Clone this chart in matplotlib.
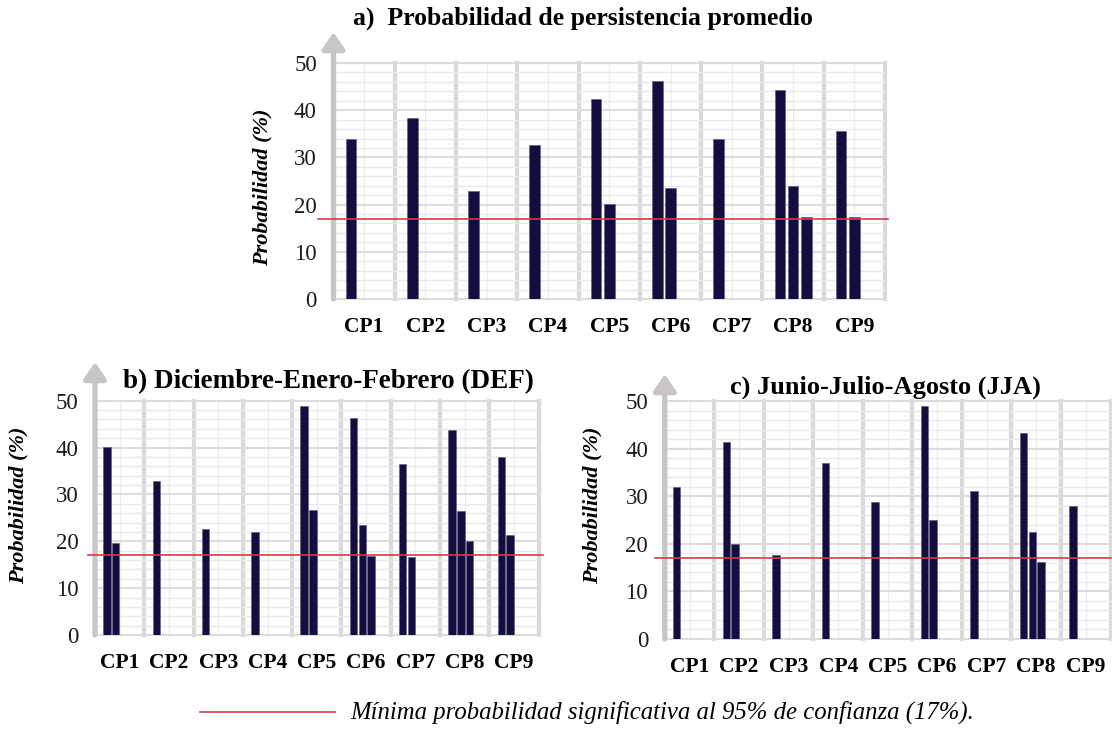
import numpy as np
import matplotlib.pyplot as plt
from matplotlib.lines import Line2D

plt.rcParams['font.family'] = ['Liberation Serif', 'DejaVu Serif']

categories = ['CP1', 'CP2', 'CP3', 'CP4', 'CP5', 'CP6', 'CP7', 'CP8', 'CP9']

# a) promedio
prom_1 = [34.0, 38.4, 22.8, 32.6, 42.4, 46.1, 33.9, 44.3, 35.6]
prom_2 = [None, None, None, None, 20.1, 23.6, None, 24.0, 17.4]
prom_3 = [None, None, None, None, None, None, None, 17.3, None]

# b) DEF
def_1 = [40.1, 32.9, 22.7, 21.9, 48.9, 46.4, 36.4, 43.7, 37.9]
def_2 = [19.7, None, None, None, 26.6, 23.4, 16.6, 26.4, 21.4]
def_3 = [None, None, None, None, None, 16.9, None, 20.1, None]

# c) JJA
jja_1 = [31.9, 41.4, 17.7, 36.9, 28.7, 48.9, 31.1, 43.2, 27.9]
jja_2 = [None, 20.0, None, None, None, 24.9, None, 22.5, None]
jja_3 = [None, None, None, None, None, None, None, 16.2, None]

umbral = 17

W, H = 1112, 730
fig = plt.figure(figsize=(W / 100, H / 100), dpi=100)

bar_color = '#120e40'
red = '#d63a48'
arrow_gray = '#c9c5c5'


def panel(rect, series, width, pitch, shift, tip, red_span, ylab_xy):
    ax = fig.add_axes(rect)
    x = np.arange(len(categories)) + 0.5
    for k, s in enumerate(series):
        vals = np.array(s, dtype=float)
        ax.bar(x + shift + (k - 1) * pitch, vals, width=width, color=bar_color,
               edgecolor='#5b587e', linewidth=0.4, zorder=3)
    ax.set_xlim(0, 9)
    ax.set_ylim(0, 50)
    ax.set_xticks(np.arange(0, 10))
    ax.set_xticklabels([])
    ax.set_xticks(x, labels=categories, minor=True)
    ax.set_yticks(np.arange(0, 51, 10))
    ax.set_yticks(np.arange(0, 51, 2), minor=True)
    ax.tick_params(which='both', length=0)
    ax.tick_params(axis='y', labelsize=16.5, pad=12, labelcolor='#1a1a1a')
    ax.tick_params(axis='x', which='minor', labelsize=15.5, pad=13)
    for lab in ax.get_xticklabels(minor=True):
        lab.set_fontweight('bold')
    ax.grid(which='major', axis='x', color='#dadada', lw=3)
    ax.grid(which='minor', axis='x', color='#ebebeb', lw=1)
    ax.grid(which='major', axis='y', color='#dcdcdc', lw=1.5)
    ax.grid(which='minor', axis='y', color='#e9e9e9', lw=1)
    for gl in ax.get_xgridlines() + ax.get_ygridlines():
        gl.set_clip_on(False)
    ax.set_axisbelow(True)
    for sp in ax.spines.values():
        sp.set_visible(False)

    # eje vertical con flecha
    ax.annotate('', xy=(0, 1 + tip), xytext=(0, 0), xycoords='axes fraction',
                arrowprops=dict(arrowstyle='-|>,head_length=0.5,head_width=0.34',
                                color=arrow_gray, lw=3.8, shrinkA=0, shrinkB=0,
                                mutation_scale=20), zorder=4)

    ax.plot(red_span, [umbral, umbral], color=red, lw=1.2,
            transform=ax.get_yaxis_transform(), clip_on=False, zorder=5)

    fig.text(ylab_xy[0] / W, 1 - ylab_xy[1] / H, 'Probabilidad (%)', rotation=90,
             ha='center', va='center', fontsize=16, fontweight='bold', style='italic')
    return ax


panel([333.5 / W, 1 - 299 / H, 551.5 / W, 236 / H], [prom_1, prom_2, prom_3],
      0.174, 0.216, 0.0, 0.131, [-0.028, 1.005], (262, 187))
panel([95 / W, 1 - 635 / H, 443.7 / W, 234.3 / H], [def_1, def_2, def_3],
      0.15, 0.178, -0.08, 0.165, [-0.016, 1.01], (19, 505))
panel([664.8 / W, 1 - 639 / H, 445.7 / W, 238 / H], [jja_1, jja_2, jja_3],
      0.15, 0.178, -0.08, 0.113, [-0.022, 1.0], (593, 505))

fig.text(583 / W, 1 - 18 / H, 'a)  Probabilidad de persistencia promedio',
         ha='center', va='center', fontsize=18.5, fontweight='bold')
fig.text(328 / W, 1 - 382 / H, 'b) Diciembre-Enero-Febrero (DEF)',
         ha='center', va='center', fontsize=19.5, fontweight='bold')
fig.text(885 / W, 1 - 387 / H, 'c) Junio-Julio-Agosto (JJA)',
         ha='center', va='center', fontsize=19, fontweight='bold')

# leyenda
fig.add_artist(Line2D([200 / W, 335 / W], [1 - 712 / H, 1 - 712 / H], color=red, lw=1.2))
fig.text(350 / W, 1 - 712 / H, 'Mínima probabilidad significativa al 95% de confianza (17%).',
         ha='left', va='center', fontsize=17.8, style='italic')

fig.savefig('out.png', dpi=100)
